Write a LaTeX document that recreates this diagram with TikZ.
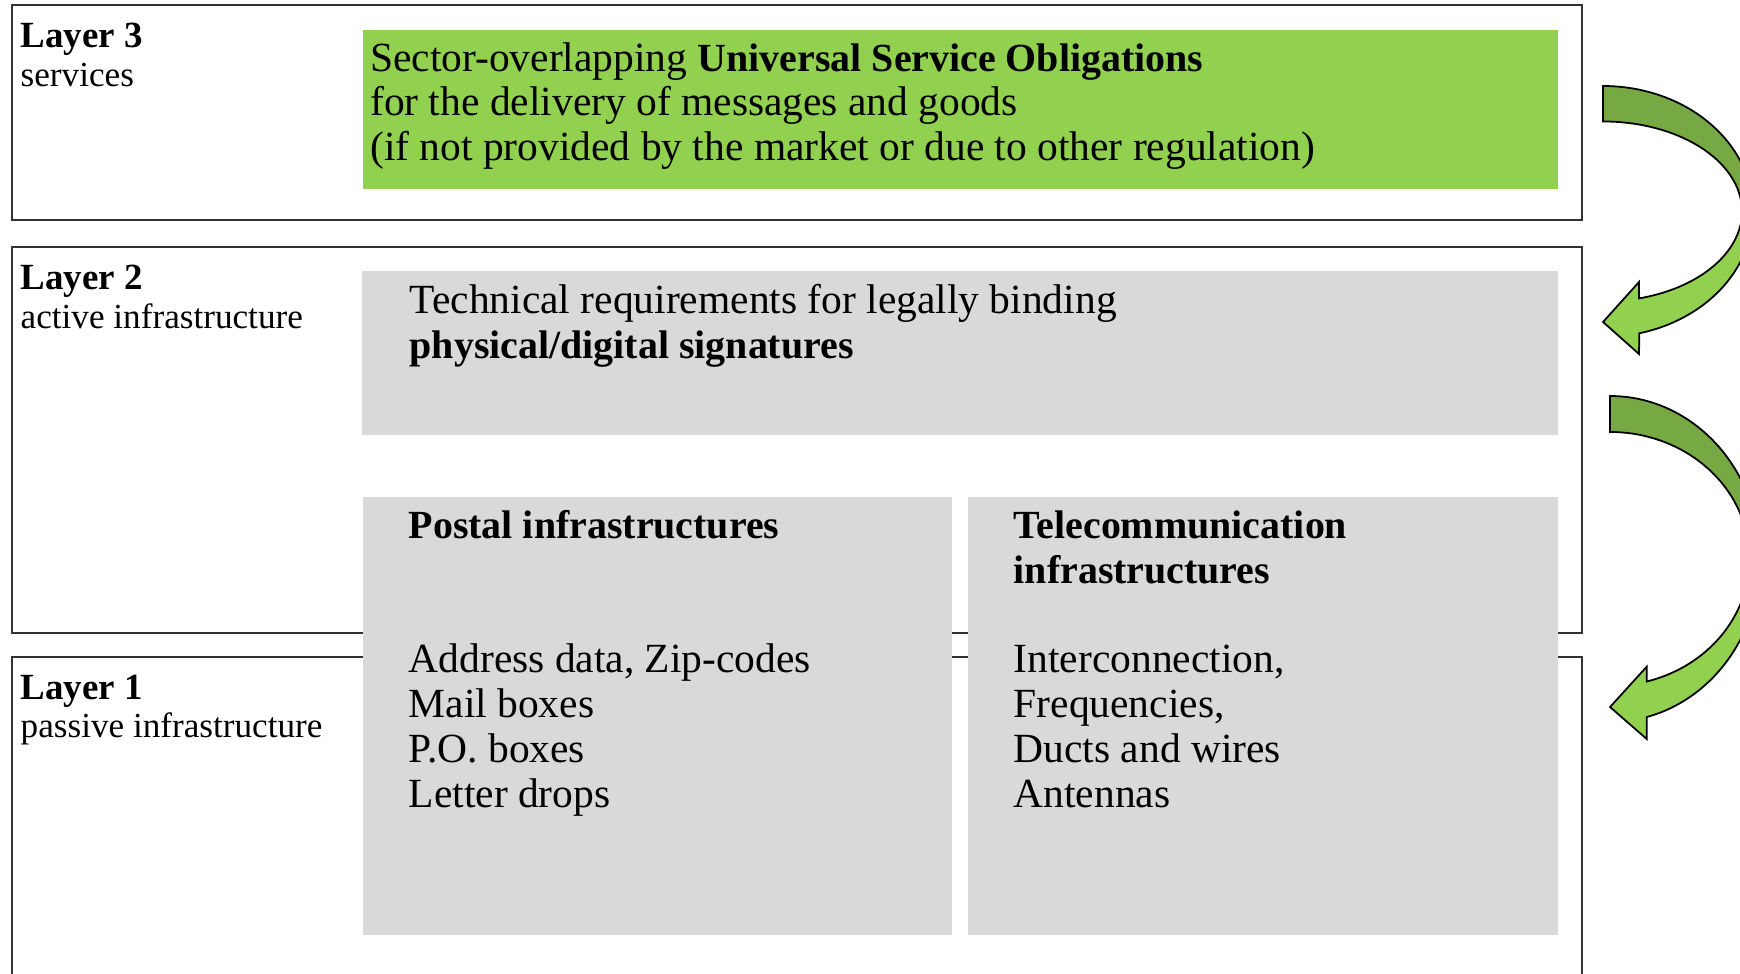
\documentclass[tikz,border=0pt]{standalone}
\usepackage{fontspec}
\setmainfont{Liberation Serif}
\usepackage{xcolor}
\usetikzlibrary{positioning}

\definecolor{usogreen}{RGB}{146,208,80}
\definecolor{panelgray}{RGB}{217,217,217}
\definecolor{arrowdark}{RGB}{118,168,68}
\definecolor{arrowlight}{RGB}{146,208,80}

\newcommand{\hl}[1]{{\fontsize{11.35}{12.72}\selectfont\bfseries #1}}

\begin{document}
\begin{tikzpicture}[
    x=0.01cm, y=-0.01cm,
    layer/.style={draw=black!80, line width=0.6pt, anchor=north west, inner sep=0pt},
    panel/.style={fill=#1, anchor=north west, inner sep=0pt},
    body/.style={anchor=north west, inner sep=0pt, align=left, font=\fontsize{11.8}{12.72}\selectfont},
    title/.style={anchor=base west, inner sep=0pt, font=\fontsize{10.5}{12.72}\selectfont\bfseries},
    sub/.style={anchor=base west, inner sep=0pt, font=\fontsize{10}{11}\selectfont},
    bent/.style={draw=black, line width=0.5pt, fill=arrowlight,
        path picture={\fill[arrowdark] (path picture bounding box.north west) rectangle (path picture bounding box.east |- #1);}},
]
\useasboundingbox (0,0) rectangle (1740,973);
\clip (0,0) rectangle (1740,973);

% Layers
\node[layer, minimum width=15.69cm, minimum height=2.15cm] (l3) at (11,4) {};
\node[layer, minimum width=15.69cm, minimum height=3.86cm] (l2) at (11,246) {};
\node[layer, minimum width=15.69cm, minimum height=3.6cm] (l1) at (11,656) {};

\node[title] (l3title) at (20,48) {Layer 3};
\node[sub] (l3sub) at (20,87) {services};
\node[title] (l2title) at (20,289) {Layer 2};
\node[sub] (l2sub) at (20,328) {active infrastructure};
\node[title] (l1title) at (20,699) {Layer 1};
\node[sub] (l1sub) at (20,737) {passive infrastructure};

% Panels
\node[panel=usogreen, minimum width=11.95cm, minimum height=1.59cm] (uso) at (362,29) {};
\node[panel=panelgray, minimum width=11.96cm, minimum height=1.64cm] (sig) at (361,270) {};
\node[panel=panelgray, minimum width=5.89cm, minimum height=4.38cm] (postal) at (362,496) {};
\node[panel=panelgray, minimum width=5.90cm, minimum height=4.38cm] (telecom) at (967,496) {};

\node[body, below right=0.1cm and 0.075cm of uso.north west] (usotext)
    {\strut Sector-overlapping \hl{Universal Service Obligations}\\for the delivery of messages and goods\\(if not provided by the market or due to other regulation)};
\node[body, below right=0.117cm and 0.48cm of sig.north west] (sigtext)
    {\strut Technical requirements for legally binding\\\hl{physical/digital signatures}};
\node[body, below right=0.107cm and 0.46cm of postal.north west] (postaltext)
    {\strut\hl{Postal infrastructures}\\[25.44pt]Address data, Zip-codes\\Mail boxes\\P.O. boxes\\Letter drops};
\node[body, below right=0.107cm and 0.46cm of telecom.north west] (telecomtext)
    {\strut\hl{Telecommunication}\\\hl{infrastructures}\\[12.72pt]Interconnection,\\Frequencies,\\Ducts and wires\\Antennas};

% Arrows
\coordinate (c1) at (1603,211.5);
\coordinate (c2) at (1610,559);
\draw[bent=c1] (1603,86) arc[start angle=-90, end angle=76, x radius=150, y radius=125.5]
    -- (1639,354) -- (1603,322) -- (1639,282) -- (1639,298.4)
    arc[start angle=75, end angle=-90, x radius=139, y radius=90] -- cycle;
\draw[bent=c2] (1610,396) arc[start angle=-90, end angle=75.8, x radius=150, y radius=163]
    -- (1646.7,739) -- (1610,707) -- (1646.7,666.7) -- (1646.7,681.5)
    arc[start angle=74.75, end angle=-90, x radius=139.5, y radius=127] -- cycle;

\end{tikzpicture}
\end{document}
